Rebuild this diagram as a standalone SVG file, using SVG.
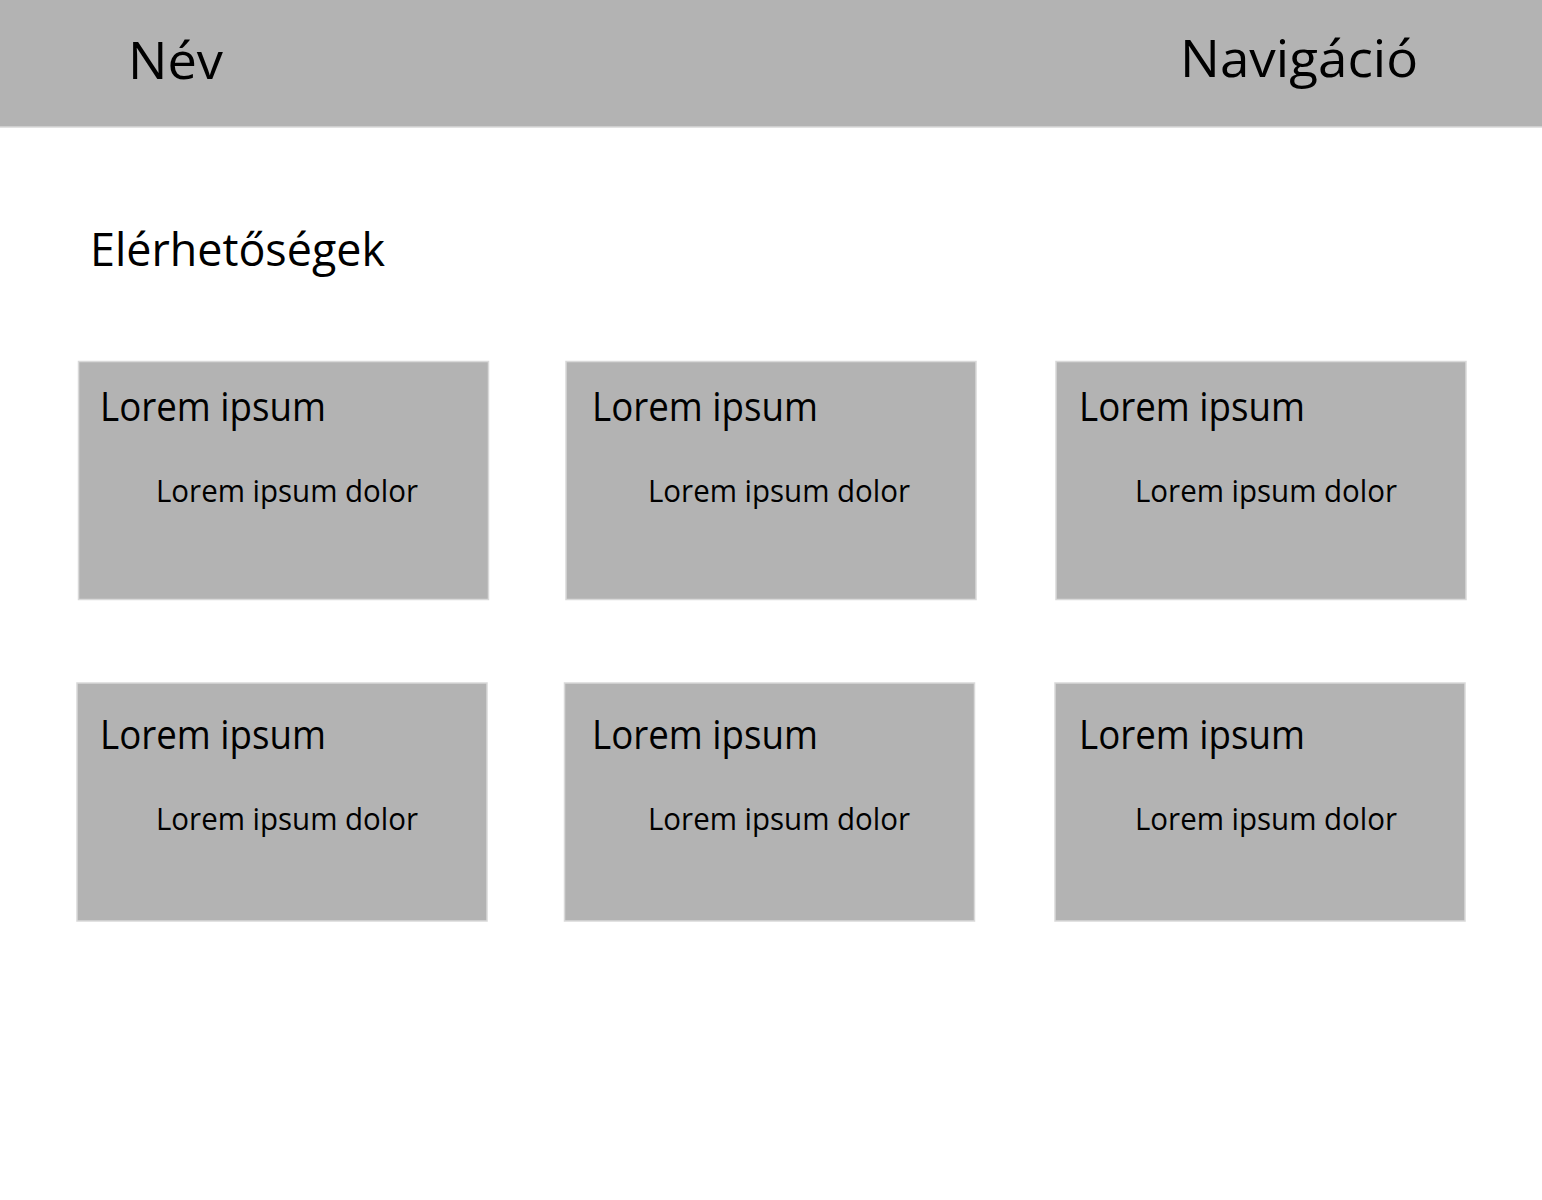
<svg xmlns="http://www.w3.org/2000/svg" width="1542" height="1200" viewBox="0 0 1542 1200">
<style>
.bg{fill:#b3b3b3;stroke:#d9d9d9;stroke-width:1.5}
text{font-family:"Open Sans","Noto Sans","Liberation Sans",sans-serif;fill:#000}
.h{font-size:52px}
.t{font-size:40px}
.s{font-size:31px}
</style>
<rect width="1542" height="1200" fill="#fff"/>
<g id="header">
<rect class="bg" x="-2" y="-2" width="1546" height="129"/>
<text class="h" x="128" y="79" textLength="95" lengthAdjust="spacingAndGlyphs">Név</text>
<text class="h" x="1180" y="77" textLength="238" lengthAdjust="spacingAndGlyphs">Navigáció</text>
</g>
<g id="title">
<text x="90" y="266" font-size="46" textLength="295" lengthAdjust="spacingAndGlyphs">Elérhetőségek</text>
</g>
<g id="card1">
<rect class="bg" x="78.5" y="361.5" width="410" height="238"/>
<text class="t" x="100" y="421" textLength="226" lengthAdjust="spacingAndGlyphs">Lorem ipsum</text>
<text class="s" x="156" y="502" textLength="262" lengthAdjust="spacingAndGlyphs">Lorem ipsum dolor</text>
</g>
<g id="card2">
<rect class="bg" x="566" y="361.5" width="410" height="238"/>
<text class="t" x="592" y="421" textLength="226" lengthAdjust="spacingAndGlyphs">Lorem ipsum</text>
<text class="s" x="648" y="502" textLength="262" lengthAdjust="spacingAndGlyphs">Lorem ipsum dolor</text>
</g>
<g id="card3">
<rect class="bg" x="1056" y="361.5" width="410" height="238"/>
<text class="t" x="1079" y="421" textLength="226" lengthAdjust="spacingAndGlyphs">Lorem ipsum</text>
<text class="s" x="1135" y="502" textLength="262" lengthAdjust="spacingAndGlyphs">Lorem ipsum dolor</text>
</g>
<g id="card4">
<rect class="bg" x="77" y="683" width="410" height="238"/>
<text class="t" x="100" y="749" textLength="226" lengthAdjust="spacingAndGlyphs">Lorem ipsum</text>
<text class="s" x="156" y="830" textLength="262" lengthAdjust="spacingAndGlyphs">Lorem ipsum dolor</text>
</g>
<g id="card5">
<rect class="bg" x="564.5" y="683" width="410" height="238"/>
<text class="t" x="592" y="749" textLength="226" lengthAdjust="spacingAndGlyphs">Lorem ipsum</text>
<text class="s" x="648" y="830" textLength="262" lengthAdjust="spacingAndGlyphs">Lorem ipsum dolor</text>
</g>
<g id="card6">
<rect class="bg" x="1055" y="683" width="410" height="238"/>
<text class="t" x="1079" y="749" textLength="226" lengthAdjust="spacingAndGlyphs">Lorem ipsum</text>
<text class="s" x="1135" y="830" textLength="262" lengthAdjust="spacingAndGlyphs">Lorem ipsum dolor</text>
</g>
<g id="connectors"/>
</svg>
